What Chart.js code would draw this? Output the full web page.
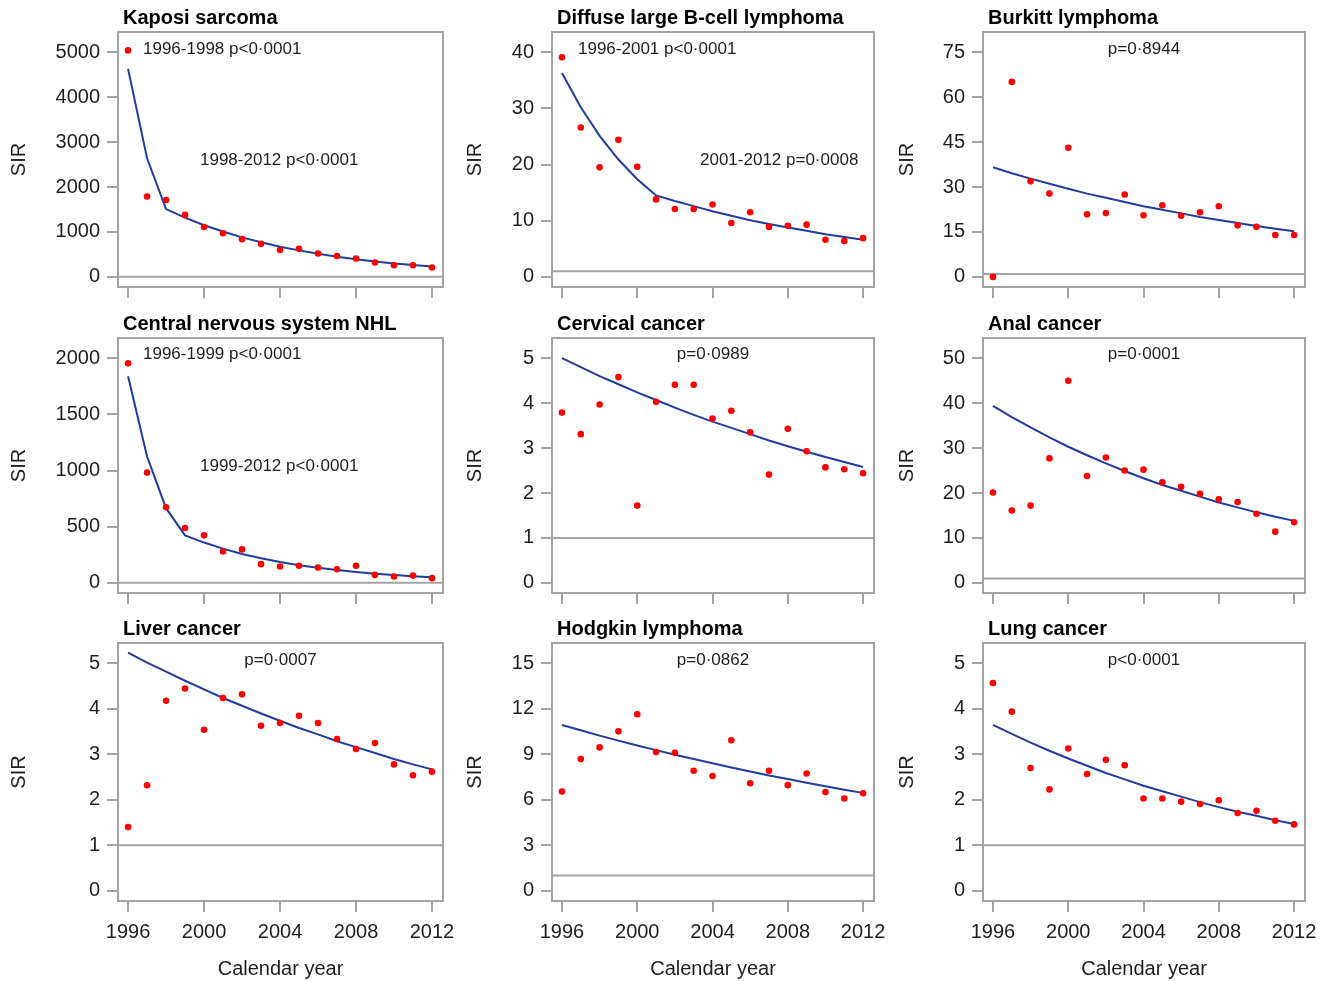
<!DOCTYPE html>
<html>
<head>
<meta charset="utf-8">
<title>SIR by calendar year</title>
<script src="https://cdn.jsdelivr.net/npm/chart.js@4.4.1/dist/chart.umd.min.js"></script>
<style>
  html, body { margin: 0; padding: 0; background: #fff; }
  #wrap { position: relative; width: 1334px; height: 981px; overflow: hidden; }
  #wrap canvas { position: absolute; }
</style>
</head>
<body>
<div id="wrap"></div>
<script>
// ===========================
// data
// ===========================
const years = [1996, 1997, 1998, 1999, 2000, 2001, 2002, 2003, 2004, 2005, 2006, 2007, 2008, 2009, 2010, 2011, 2012];
const yearTicks = [1996, 2000, 2004, 2008, 2012];
const refLevel = 1;

const kaposiObs = [5040, 1790, 1710, 1380, 1110, 970, 840, 735, 600, 625, 520, 465, 410, 320, 260, 260, 210];
const kaposiFit = [4630, 2640, 1510, 1320, 1150, 1010, 880, 770, 670, 590, 515, 450, 395, 345, 300, 265, 230];
const kaposiTicks = [0, 1000, 2000, 3000, 4000, 5000];

const dlbclObs = [39.1, 26.6, 19.5, 24.4, 19.6, 13.8, 12.1, 12.1, 12.9, 9.6, 11.5, 8.9, 9.1, 9.3, 6.6, 6.4, 6.9];
const dlbclFit = [36.3, 30.2, 25.1, 20.9, 17.4, 14.5, 13.5, 12.6, 11.7, 10.9, 10.1, 9.4, 8.8, 8.2, 7.6, 7.1, 6.6];
const dlbclTicks = [0, 10, 20, 30, 40];

const burkittObs = [0, 65.1, 31.9, 27.8, 43.1, 20.9, 21.3, 27.5, 20.6, 23.9, 20.4, 21.6, 23.6, 17.2, 16.7, 14.0, 14.0];
const burkittFit = [36.6, 34.6, 32.8, 31.1, 29.4, 27.8, 26.4, 25.0, 23.6, 22.4, 21.2, 20.0, 19.0, 18.0, 17.0, 16.1, 15.2];
const burkittTicks = [0, 15, 30, 45, 60, 75];

const cnsObs = [1955, 982, 673, 488, 423, 280, 298, 167, 146, 152, 137, 122, 152, 71, 57, 65, 42];
const cnsFit = [1840, 1125, 665, 423, 359, 305, 258, 219, 186, 158, 134, 114, 97, 82, 70, 59, 50];
const cnsTicks = [0, 500, 1000, 1500, 2000];

const cervicalObs = [3.79, 3.31, 3.97, 4.58, 1.72, 4.03, 4.41, 4.41, 3.66, 3.83, 3.35, 2.41, 3.43, 2.93, 2.57, 2.53, 2.44];
const cervicalFit = [5.00, 4.80, 4.60, 4.42, 4.24, 4.07, 3.90, 3.74, 3.59, 3.45, 3.31, 3.17, 3.04, 2.92, 2.80, 2.69, 2.58];
const cervicalTicks = [0, 1, 2, 3, 4, 5];

const analObs = [20.1, 16.1, 17.2, 27.7, 45.0, 23.8, 27.9, 25.0, 25.2, 22.4, 21.4, 19.8, 18.6, 18.0, 15.4, 11.4, 13.5];
const analFit = [39.4, 36.9, 34.6, 32.4, 30.3, 28.4, 26.6, 24.9, 23.3, 21.8, 20.5, 19.2, 17.9, 16.8, 15.7, 14.7, 13.8];
const analTicks = [0, 10, 20, 30, 40, 50];

const liverObs = [1.40, 2.32, 4.18, 4.45, 3.54, 4.24, 4.32, 3.63, 3.69, 3.85, 3.69, 3.34, 3.12, 3.25, 2.78, 2.54, 2.62];
const liverFit = [5.24, 5.02, 4.82, 4.62, 4.43, 4.24, 4.07, 3.90, 3.74, 3.58, 3.44, 3.29, 3.16, 3.03, 2.90, 2.78, 2.67];
const liverTicks = [0, 1, 2, 3, 4, 5];

const hodgkinObs = [6.55, 8.69, 9.46, 10.52, 11.65, 9.15, 9.11, 7.92, 7.57, 9.93, 7.10, 7.92, 6.97, 7.74, 6.51, 6.09, 6.44];
const hodgkinFit = [10.94, 10.59, 10.24, 9.91, 9.59, 9.28, 8.98, 8.69, 8.41, 8.13, 7.87, 7.61, 7.37, 7.13, 6.90, 6.67, 6.46];
const hodgkinTicks = [0, 3, 6, 9, 12, 15];

const lungObs = [4.57, 3.94, 2.70, 2.23, 3.13, 2.57, 2.88, 2.76, 2.03, 2.03, 1.96, 1.91, 1.99, 1.71, 1.76, 1.54, 1.46];
const lungFit = [3.65, 3.45, 3.26, 3.08, 2.91, 2.75, 2.59, 2.45, 2.31, 2.19, 2.07, 1.95, 1.84, 1.74, 1.65, 1.55, 1.47];
const lungTicks = [0, 1, 2, 3, 4, 5];

// panels, row by row; notes: x = offset from box left (or "mid"), y = offset from box top
const panels = [
  { title: "Kaposi sarcoma", obs: kaposiObs, fit: kaposiFit, ticks: kaposiTicks,
    notes: [{ text: "1996-1998 p<0·0001", x: 25, y: 17 }, { text: "1998-2012 p<0·0001", x: 82, y: 128 }] },
  { title: "Diffuse large B-cell lymphoma", obs: dlbclObs, fit: dlbclFit, ticks: dlbclTicks,
    notes: [{ text: "1996-2001 p<0·0001", x: 26, y: 17 }, { text: "2001-2012 p=0·0008", x: 148, y: 128 }] },
  { title: "Burkitt lymphoma", obs: burkittObs, fit: burkittFit, ticks: burkittTicks,
    notes: [{ text: "p=0·8944", x: "mid", y: 17 }] },
  { title: "Central nervous system NHL", obs: cnsObs, fit: cnsFit, ticks: cnsTicks,
    notes: [{ text: "1996-1999 p<0·0001", x: 25, y: 16 }, { text: "1999-2012 p<0·0001", x: 82, y: 128 }] },
  { title: "Cervical cancer", obs: cervicalObs, fit: cervicalFit, ticks: cervicalTicks,
    notes: [{ text: "p=0·0989", x: "mid", y: 16 }] },
  { title: "Anal cancer", obs: analObs, fit: analFit, ticks: analTicks,
    notes: [{ text: "p=0·0001", x: "mid", y: 16 }] },
  { title: "Liver cancer", obs: liverObs, fit: liverFit, ticks: liverTicks,
    notes: [{ text: "p=0·0007", x: "mid", y: 17 }] },
  { title: "Hodgkin lymphoma", obs: hodgkinObs, fit: hodgkinFit, ticks: hodgkinTicks,
    notes: [{ text: "p=0·0862", x: "mid", y: 17 }] },
  { title: "Lung cancer", obs: lungObs, fit: lungFit, ticks: lungTicks,
    notes: [{ text: "p<0·0001", x: "mid", y: 17 }] }
];

// ===========================
// layout / style
// ===========================
const FONT = "'Liberation Sans', Arial, Helvetica, sans-serif";
const GRAY = "#a3a3a3";
const TEXT = "#1e1e1e";
const RED = "#ff0000";
const BLUE = "#1f3c9e";

const boxLeft = [118, 552, 983];
const boxWidth = [325, 322, 322];
const boxTop = [32, 338, 643];
const boxHeight = [255, 255, 258];
const yAxisW = 118;
const padRight = 26;             // room for the "2012" label
const sirOffset = [7, 29, 30];   // title padding of "SIR" per column
const X_MIN = 1995.47, X_MAX = 2012.58;

// frame, panel title and p-value notes
const framePlugin = {
  id: "frame",
  afterDraw(chart, args, opts) {
    const ctx = chart.ctx;
    const a = chart.chartArea;
    ctx.save();
    ctx.strokeStyle = GRAY;
    ctx.lineWidth = 2;
    ctx.strokeRect(a.left, a.top, a.right - a.left, a.bottom - a.top);

    ctx.fillStyle = "#000";
    ctx.font = "bold 20px " + FONT;
    ctx.textBaseline = "middle";
    ctx.textAlign = "left";
    ctx.fillText(opts.title, a.left + 5, a.top - 14);

    ctx.font = "17px " + FONT;
    ctx.fillStyle = TEXT;
    opts.notes.forEach(n => {
      if (n.x === "mid") {
        ctx.textAlign = "center";
        ctx.fillText(n.text, (a.left + a.right) / 2, a.top + n.y);
      } else {
        ctx.textAlign = "left";
        ctx.fillText(n.text, a.left + n.x, a.top + n.y);
      }
    });
    ctx.restore();
  }
};

function makePanel(p, idx) {
  const col = idx % 3;
  const row = Math.floor(idx / 3);
  const bottomRow = row === 2;
  const xAxisH = bottomRow ? 80 : 22;

  const canvas = document.createElement("canvas");
  const w = yAxisW + boxWidth[col] + padRight;
  const h = 32 + boxHeight[row] + xAxisH;
  canvas.width = w;
  canvas.height = h;
  canvas.style.width = w + "px";
  canvas.style.height = h + "px";
  canvas.style.left = (boxLeft[col] - yAxisW) + "px";
  canvas.style.top = (boxTop[row] - 32) + "px";
  document.getElementById("wrap").appendChild(canvas);

  const top = p.ticks[p.ticks.length - 1];
  const tickFont = { family: FONT, size: 20 };

  new Chart(canvas.getContext("2d"), {
    type: "scatter",
    data: {
      datasets: [
        {
          data: years.map((yr, i) => ({ x: yr, y: p.obs[i] })),
          backgroundColor: RED,
          borderWidth: 0,
          pointRadius: 3.3,
          order: 0
        },
        {
          data: years.map((yr, i) => ({ x: yr, y: p.fit[i] })),
          showLine: true,
          borderColor: BLUE,
          borderWidth: 2,
          pointRadius: 0,
          tension: 0,
          order: 1
        },
        {
          data: [{ x: X_MIN, y: refLevel }, { x: X_MAX, y: refLevel }],
          showLine: true,
          borderColor: GRAY,
          borderWidth: 2,
          pointRadius: 0,
          order: 2
        }
      ]
    },
    options: {
      responsive: false,
      animation: false,
      layout: { padding: { top: 32, right: padRight, bottom: 0, left: 0 } },
      plugins: {
        legend: { display: false },
        tooltip: { enabled: false },
        frame: { title: p.title, notes: p.notes }
      },
      scales: {
        x: {
          type: "linear",
          min: X_MIN,
          max: X_MAX,
          afterBuildTicks: s => { s.ticks = yearTicks.map(v => ({ value: v })); },
          afterFit: s => { s.height = xAxisH; },
          grid: { drawOnChartArea: false, drawTicks: true, tickLength: 11, color: GRAY, lineWidth: 2 },
          border: { display: false },
          ticks: {
            display: bottomRow, font: tickFont, color: TEXT, padding: 8,
            maxRotation: 0, autoSkip: false, callback: v => String(v)
          },
          title: {
            display: bottomRow, text: "Calendar year", font: tickFont, color: TEXT,
            padding: { top: 0, bottom: 0 }
          }
        },
        y: {
          type: "linear",
          min: -0.045 * top,
          max: 1.09 * top,
          afterBuildTicks: s => { s.ticks = p.ticks.map(v => ({ value: v })); },
          afterFit: s => { s.width = yAxisW; },
          grid: { drawOnChartArea: false, drawTicks: true, tickLength: 11, color: GRAY, lineWidth: 2 },
          border: { display: false },
          ticks: { font: tickFont, color: TEXT, padding: 7, autoSkip: false, callback: v => String(v) },
          title: {
            display: true, text: "SIR", font: tickFont, color: TEXT,
            padding: { top: sirOffset[col], bottom: 0 }
          }
        }
      }
    },
    plugins: [framePlugin]
  });
}

panels.forEach(makePanel);
</script>
</body>
</html>
